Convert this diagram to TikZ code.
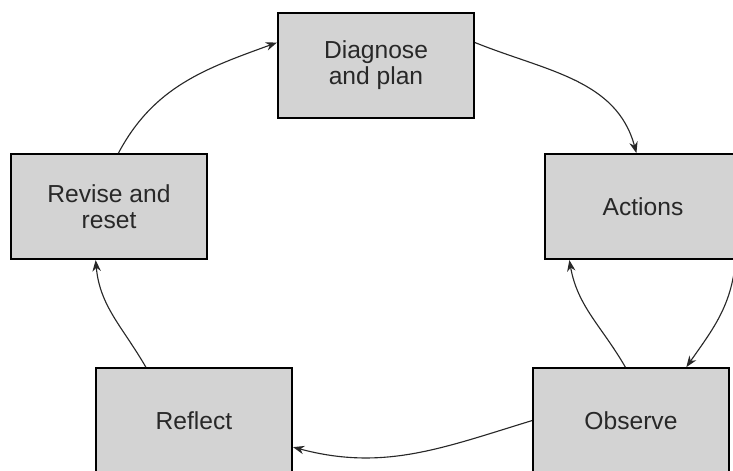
\documentclass[tikz,border=0pt]{standalone}
\usepackage{fontspec}
\setmainfont{Liberation Sans}
\usetikzlibrary{arrows.meta, positioning}

\definecolor{boxgray}{RGB}{211,211,211}
\definecolor{inkgray}{RGB}{40,40,40}

\begin{document}
\begin{tikzpicture}[
    stagebox/.style={
        rectangle,
        minimum width=4.9cm, minimum height=2.625cm,
        inner sep=0pt, align=center,
        font=\fontsize{17.5}{18.5}\selectfont,
        text=inkgray,
        fill=boxgray, draw=black,
        line width=1.4pt
    },
    cyc/.style={
        -{Stealth[length=8pt,width=6pt]},
        line width=0.8pt, color=inkgray
    },
]

\useasboundingbox (0,0) rectangle (18.325,11.775);
\clip (0,0) rectangle (18.325,11.775);

% TOP
\node[stagebox] (diagnose) at (9.4,10.14) {Diagnose\\and plan};

% MIDDLE ROW
\node[stagebox] (revise) at (2.725,6.61) {Revise and\\reset};
\node[stagebox, right=8.4cm of revise] (actions) {Actions};

% BOTTOM ROW
\node[stagebox] (reflect) at (4.85,1.26) {Reflect};
\node[stagebox, right=5.975cm of reflect] (observe) {Observe};

% Cycle arrows
\draw[cyc] (revise.80) to[out=62, in=200] (diagnose.167);
\draw[cyc] (diagnose.13) to[out=-22, in=105] (actions.97);
\draw[cyc] (actions.-30) to[out=-95, in=55] (observe.44);
\draw[cyc] (observe.96) to[out=120, in=-80] (actions.-144);
\draw[cyc] (observe.west) to[out=197, in=-15] (reflect.-15);
\draw[cyc] (reflect.132) to[out=120, in=-85] (revise.-104);

\end{tikzpicture}
\end{document}
